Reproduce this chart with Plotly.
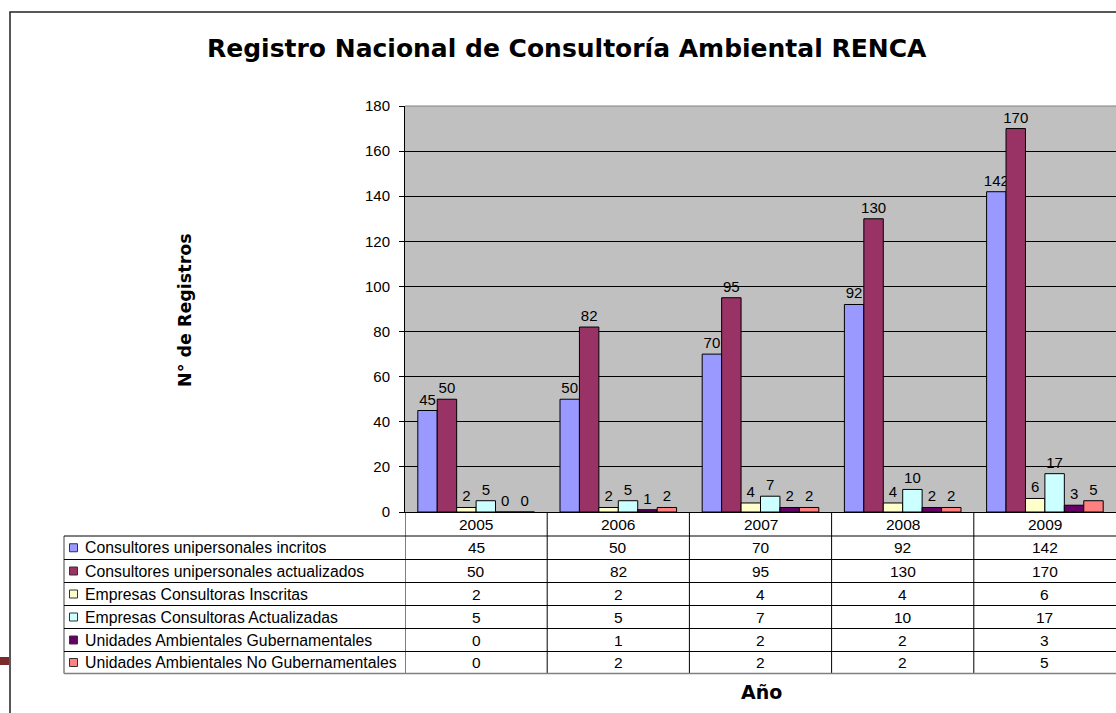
import plotly.graph_objects as go

# ---------------- data ----------------
years = ["2005", "2006", "2007", "2008", "2009"]
series_names = [
    "Consultores unipersonales incritos",
    "Consultores unipersonales actualizados",
    "Empresas Consultoras Inscritas",
    "Empresas Consultoras Actualizadas",
    "Unidades Ambientales Gubernamentales",
    "Unidades Ambientales No Gubernamentales",
]
cu_inscritos = [45, 50, 70, 92, 142]
cu_actualizados = [50, 82, 95, 130, 170]
emp_inscritas = [2, 2, 4, 4, 6]
emp_actualizadas = [5, 5, 7, 10, 17]
ua_gub = [0, 1, 2, 2, 3]
ua_nogub = [0, 2, 2, 2, 5]
series_values = [cu_inscritos, cu_actualizados, emp_inscritas,
                 emp_actualizadas, ua_gub, ua_nogub]
colors = ["#9999FF", "#993366", "#FFFFCC", "#CCFFFF", "#660066", "#FF8080"]

title_text = "Registro Nacional de Consultoría Ambiental RENCA"
y_title = "N° de Registros"
x_title = "Año"

# ---------------- layout geometry (pixels, page coordinates) ----------------
W, H = 1116, 713
PLOT_L, PLOT_T, PLOT_B = 405, 106, 512
L, R, T = PLOT_L, 0, PLOT_T
B = H - PLOT_B
PW, PH = W - L - R, H - T - B
FONT = "Arial, Liberation Sans, sans-serif"
BOLD = "DejaVu Sans, Arial, sans-serif"


def px(xp):
    return (xp - PLOT_L) / PW


def py(yp):
    return (PLOT_B - yp) / PH


fig = go.Figure()
for name, vals, col in zip(series_names, series_values, colors):
    fig.add_trace(go.Bar(
        x=years, y=vals, name=name,
        marker=dict(color=col, line=dict(color="#000000", width=1)),
        text=[str(v) for v in vals], textposition="outside",
        textfont=dict(family=FONT, size=15, color="#000000"),
        constraintext="none", cliponaxis=False, showlegend=False,
    ))

shapes = []
annotations = []

# chart outer border (partially visible)
shapes.append(dict(type="path", xref="paper", yref="paper",
                   path=f"M {px(1130)} {py(12)} L {px(10)} {py(12)} L {px(10)} {py(720)}",
                   line=dict(color="#222222", width=1.5)))
# slide artefact at bottom left
shapes.append(dict(type="rect", xref="paper", yref="paper",
                   x0=px(-2), x1=px(9), y0=py(657), y1=py(665),
                   fillcolor="#7A2A2A", line=dict(width=0)))

# plot top border
shapes.append(dict(type="line", xref="paper", yref="paper",
                   x0=0, x1=1, y0=1, y1=1, line=dict(color="#808080", width=1)))

# ---------------- data table ----------------
row_lines = [536, 559.5, 582.5, 605.5, 628.5, 651.5, 673.5]
for i in range(len(years)):
    shapes.append(dict(type="line", xref="x", yref="paper",
                       x0=i - 0.5, x1=i - 0.5, y0=py(512), y1=py(row_lines[-1]),
                       line=dict(color="#000000", width=1)))
shapes.append(dict(type="line", xref="paper", yref="paper",
                   x0=px(64), x1=px(64), y0=py(row_lines[0]), y1=py(row_lines[-1]),
                   line=dict(color="#808080", width=1.5)))
for k, yl in enumerate(row_lines):
    last = k == len(row_lines) - 1
    shapes.append(dict(type="line", xref="paper", yref="paper",
                       x0=px(64), x1=1, y0=py(yl), y1=py(yl),
                       line=dict(color="#808080" if last else "#000000",
                                 width=1.5 if last else 1)))

# year header row
for i, yr in enumerate(years):
    annotations.append(dict(x=i, xref="x", y=py(524), yref="paper", text=yr,
                            showarrow=False, xanchor="center", yanchor="middle",
                            font=dict(family=FONT, size=15.5, color="#000000")))

# series rows
for r, (name, vals, col) in enumerate(zip(series_names, series_values, colors)):
    yc = (row_lines[r] + row_lines[r + 1]) / 2
    shapes.append(dict(type="rect", xref="paper", yref="paper",
                       x0=px(69.5), x1=px(77.5), y0=py(yc - 4), y1=py(yc + 4),
                       fillcolor=col, line=dict(color="#333333", width=1)))
    annotations.append(dict(x=px(83), xref="paper", y=py(yc), yref="paper",
                            text=name, showarrow=False, xanchor="left", yanchor="middle",
                            font=dict(family=FONT, size=15.8, color="#000000")))
    for i, v in enumerate(vals):
        annotations.append(dict(x=i, xref="x", y=py(yc), yref="paper", text=str(v),
                                showarrow=False, xanchor="center", yanchor="middle",
                                font=dict(family=FONT, size=15.5, color="#000000")))

# titles
annotations.append(dict(x=px(567), xref="paper", y=py(49), yref="paper",
                        text=f"<b>{title_text}</b>", showarrow=False,
                        xanchor="center", yanchor="middle",
                        font=dict(family=BOLD, size=25, color="#000000")))
annotations.append(dict(x=px(185), xref="paper", y=py(310), yref="paper",
                        text=f"<b>{y_title}</b>", showarrow=False, textangle=-90,
                        xanchor="center", yanchor="middle",
                        font=dict(family=BOLD, size=17.5, color="#000000")))
annotations.append(dict(x=px(761), xref="paper", y=py(692), yref="paper",
                        text=f"<b>{x_title}</b>", showarrow=False,
                        xanchor="center", yanchor="middle",
                        font=dict(family=BOLD, size=19, color="#000000")))

fig.update_layout(
    width=W, height=H, autosize=False,
    margin=dict(l=L, r=R, t=T, b=B, pad=0),
    paper_bgcolor="#FFFFFF", plot_bgcolor="#C0C0C0",
    barmode="group", bargap=0.18, bargroupgap=0,
    showlegend=False,
    shapes=shapes, annotations=annotations,
    xaxis=dict(type="category", range=[-0.5, 4.5], showticklabels=False,
               showgrid=False, ticks="", zeroline=False,
               showline=True, linecolor="#000000", linewidth=1),
    yaxis=dict(range=[0, 180], dtick=20, tick0=0, showgrid=True,
               gridcolor="#000000", gridwidth=1, zeroline=False,
               showline=True, linecolor="#000000", linewidth=1,
               ticks="outside", ticklen=5, tickcolor="#000000",
               ticklabelstandoff=6,
               tickfont=dict(family=FONT, size=15, color="#000000")),
)

fig.write_html(
    "out.html",
    config={"displayModeBar": False},
    post_script="document.body.style.margin='0';document.body.style.overflow='hidden';",
)
